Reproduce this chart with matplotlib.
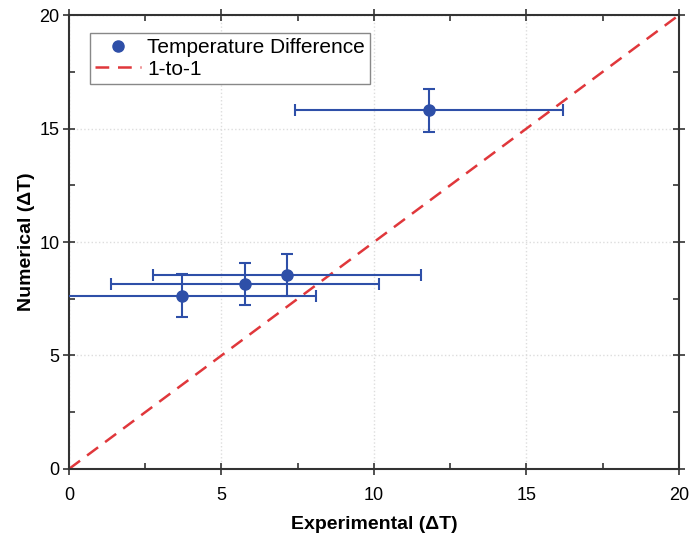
import numpy as np
import matplotlib.pyplot as plt
from matplotlib.ticker import MultipleLocator
from matplotlib.lines import Line2D

# data
exp_dT = [3.69, 5.78, 7.14, 11.80]
num_dT = [7.63, 8.15, 8.53, 15.81]
exp_err = [4.4, 4.4, 4.4, 4.4]
num_err = [0.94, 0.93, 0.93, 0.94]
line_x = [0, 20]
line_y = [0, 20]

plt.rcParams['font.family'] = ['Liberation Sans', 'DejaVu Sans']

fig = plt.figure(figsize=(6.9, 5.39), dpi=100)
ax = fig.add_axes([0.1, 0.13, 0.884, 0.842])

#error bars and points
ax.errorbar(exp_dT, num_dT, xerr=exp_err, yerr=num_err, fmt='o', color='#2E4FA8',
            ms=8, elinewidth=1.5, capsize=4, capthick=1.5, zorder=3)
ax.plot(line_x, line_y, '--', color='#E0373B', lw=1.8, dashes=(5.5, 3.5), zorder=2)

ax.set_xlim(0, 20)
ax.set_ylim(0, 20)
ax.xaxis.set_major_locator(MultipleLocator(5))
ax.yaxis.set_major_locator(MultipleLocator(5))
ax.xaxis.set_minor_locator(MultipleLocator(2.5))
ax.yaxis.set_minor_locator(MultipleLocator(2.5))
ax.tick_params(which='major', direction='inout', length=8, width=1.2, labelsize=13,
               top=True, right=True, labeltop=False, labelright=False, color='#333333')
ax.tick_params(which='minor', direction='in', length=4, width=1.2, top=True, right=True,
               color='#333333')
ax.tick_params(axis='y', which='major', pad=3)
ax.tick_params(axis='x', which='major', pad=9)
ax.grid(True, which='major', linestyle=':', color='#DDDDDD', lw=1)
for s in ax.spines.values():
    s.set_linewidth(1.5)
    s.set_color('#333333')

ax.set_xlabel('Experimental (\u0394T)', fontsize=14, fontweight='bold', labelpad=9)
ax.set_ylabel('Numerical (\u0394T)', fontsize=14, fontweight='bold', labelpad=3)

# legend: marker only for the data series
handles = [Line2D([], [], marker='o', ls='none', color='#2E4FA8', ms=8),
           Line2D([], [], ls='--', color='#E0373B', lw=1.8, dashes=(5.5, 3.5))]
labels = ['Temperature Difference', '1-to-1']
ax.legend(handles, labels, loc='upper left', bbox_to_anchor=(0.034, 0.96), borderaxespad=0,
          fontsize=15, fancybox=False, edgecolor='#888888', framealpha=1,
          borderpad=0.25, labelspacing=0.1, handlelength=2.2, handletextpad=0.3)

fig.savefig('out.png', dpi=100)
